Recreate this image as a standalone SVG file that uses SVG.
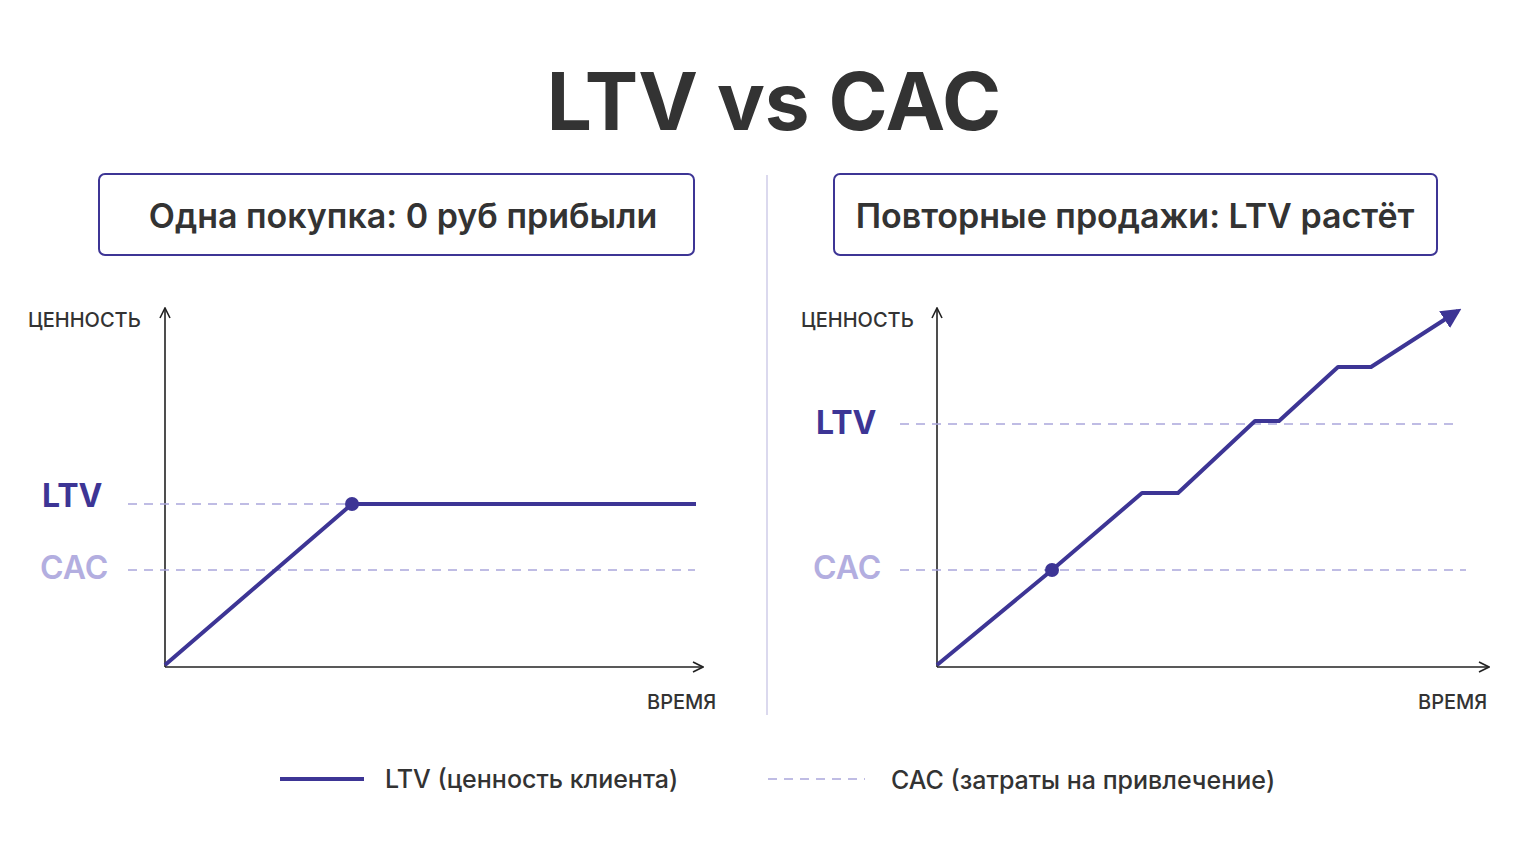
<svg xmlns="http://www.w3.org/2000/svg" width="1536" height="864" viewBox="0 0 1536 864">
<defs>
<style>
text{font-family:"Inter","Liberation Sans",sans-serif}
.ax{stroke:#222;stroke-width:1.6;fill:none}
.dash{stroke:#aaa6dc;stroke-width:1.6;stroke-dasharray:9 7;fill:none}
.ln{stroke:#3d3595;stroke-width:4;fill:none;stroke-linejoin:round}
.box{fill:#fff;stroke:#3d3595;stroke-width:2}
.bt{font-size:34px;font-weight:600;fill:#333;text-anchor:middle}
.al{font-size:20px;font-weight:500;fill:#333}
</style>
<marker id="ah" viewBox="0 0 12 12" refX="11" refY="6" markerWidth="12" markerHeight="12" markerUnits="userSpaceOnUse" orient="auto"><path d="M1,1 L11,6 L1,11" fill="none" stroke="#222" stroke-width="1.6"/></marker>
<marker id="ahp" viewBox="0 0 10 10" refX="8" refY="5" markerWidth="5" markerHeight="5" orient="auto"><path d="M0,0 L10,5 L0,10 z" fill="#3d3595"/></marker>
</defs>
<rect width="1536" height="864" fill="#fff"/>
<text x="774" y="130" font-size="80" font-weight="700" fill="#333" text-anchor="middle">LTV vs CAC</text>
<line x1="767" y1="175" x2="767" y2="715" stroke="#cfcce8" stroke-width="1.5"/>
<g id="left-title"><rect class="box" x="99" y="174" width="595" height="81" rx="6"/><text class="bt" x="403" y="228">Одна покупка: 0 руб прибыли</text></g>
<g id="right-title"><rect class="box" x="834" y="174" width="603" height="81" rx="6"/><text class="bt" x="1135" y="228">Повторные продажи: LTV растёт</text></g>
<g id="left-chart">
<text class="al" x="28" y="327">ЦЕННОСТЬ</text>
<text class="al" x="647" y="709">ВРЕМЯ</text>
<text x="42" y="507" font-size="32" font-weight="700" fill="#3d3595">LTV</text>
<text x="40" y="579" font-size="32" font-weight="600" fill="#b3aee0">CAC</text>
</g>
<g id="right-chart">
<text class="al" x="801" y="327">ЦЕННОСТЬ</text>
<text class="al" x="1418" y="709">ВРЕМЯ</text>
<text x="816" y="434" font-size="32" font-weight="700" fill="#3d3595">LTV</text>
<text x="813" y="579" font-size="32" font-weight="600" fill="#b3aee0">CAC</text>
</g>
<g id="connectors">
<line class="ax" x1="165" y1="667" x2="165" y2="308" marker-end="url(#ah)"/>
<line class="ax" x1="165" y1="667" x2="703" y2="667" marker-end="url(#ah)"/>
<line class="dash" x1="128" y1="504" x2="695" y2="504"/>
<line class="dash" x1="128" y1="570" x2="695" y2="570"/>
<polyline class="ln" points="165,665 352,504 696,504"/>
<circle cx="352" cy="504" r="7" fill="#3d3595"/>
<line class="ax" x1="937" y1="667" x2="937" y2="308" marker-end="url(#ah)"/>
<line class="ax" x1="937" y1="667" x2="1489" y2="667" marker-end="url(#ah)"/>
<line class="dash" x1="900" y1="424" x2="1460" y2="424"/>
<line class="dash" x1="900" y1="570" x2="1466" y2="570"/>
<polyline class="ln" points="937,665 1052,570 1142,493 1178,493 1255,421 1279,421 1338,367 1371,367 1458,311" marker-end="url(#ahp)"/>
<circle cx="1052" cy="570" r="7" fill="#3d3595"/>
</g>
<g id="legend">
<line x1="280" y1="779" x2="364" y2="779" stroke="#3d3595" stroke-width="4"/>
<text x="385" y="788" font-size="25" font-weight="500" fill="#333">LTV (ценность клиента)</text>
<line class="dash" x1="768" y1="779" x2="865" y2="779"/>
<text x="891" y="789" font-size="25" font-weight="500" fill="#333">CAC (затраты на привлечение)</text>
</g>
</svg>
